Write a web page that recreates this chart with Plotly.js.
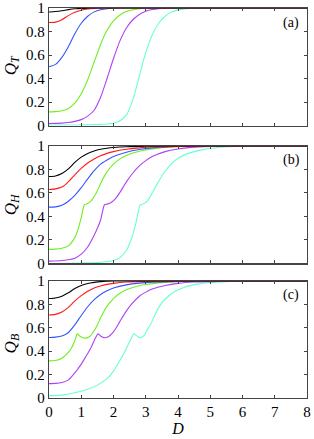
<!DOCTYPE html>
<html><head><meta charset="utf-8">
<script src="https://cdn.plot.ly/plotly-3.0.1.min.js"></script>
<style>html,body{margin:0;padding:0;background:#fff;}#plot{width:314px;height:439px;}</style>
</head><body><div id="plot"></div>
<script>
// ---------- data ----------
const seriesNames = ["black","red","blue","green","purple","cyan"];
const seriesColors = ["#000000","#ff1a1a","#3355ff","#6fef1f","#b040f5","#66ffd6"];

// Panel (a): Q_T
const D_QT = [0,0.2,0.4,0.6,0.8,1.0,1.2,1.4,1.6,1.8,2.0,2.2,2.4,2.6,2.8,3.0,3.2,3.4,3.6,3.8,4.0,4.3,4.6,5,6,8];
const QT_black  = [0.966,0.970,0.977,0.986,0.993,0.997,0.999,1,1,1,1,1,1,1,1,1,1,1,1,1,1,1,1,1,1,1];
const QT_red    = [0.876,0.880,0.900,0.935,0.963,0.981,0.991,0.996,0.999,1,1,1,1,1,1,1,1,1,1,1,1,1,1,1,1,1];
const QT_blue   = [0.50,0.52,0.58,0.67,0.78,0.87,0.93,0.967,0.985,0.994,0.998,1,1,1,1,1,1,1,1,1,1,1,1,1,1,1];
const QT_green  = [0.116,0.118,0.125,0.145,0.19,0.27,0.39,0.54,0.69,0.81,0.89,0.94,0.97,0.985,0.994,0.998,1,1,1,1,1,1,1,1,1,1];
const QT_purple = [0.017,0.018,0.02,0.025,0.035,0.05,0.08,0.13,0.24,0.40,0.57,0.72,0.83,0.90,0.945,0.972,0.987,0.995,0.998,1,1,1,1,1,1,1];
const QT_cyan   = [0.003,0.003,0.003,0.004,0.004,0.005,0.006,0.008,0.01,0.013,0.02,0.04,0.09,0.22,0.42,0.62,0.77,0.87,0.93,0.965,0.984,0.995,1,1,1,1];

// Panel (b): Q_H
const D_QH_black = [0,0.2,0.4,0.6,0.8,1.0,1.2,1.4,1.6,1.8,2.0,2.4,2.8,3.2,4,5,8];
const QH_black   = [0.74,0.745,0.765,0.805,0.86,0.905,0.937,0.958,0.972,0.981,0.987,0.994,0.997,0.999,1,1,1];
const D_QH_red   = [0,0.2,0.4,0.6,0.8,1.0,1.2,1.4,1.6,1.8,2.0,2.4,2.8,3.2,4,5,8];
const QH_red     = [0.63,0.635,0.65,0.695,0.755,0.81,0.855,0.89,0.917,0.937,0.952,0.972,0.984,0.991,0.997,1,1];
const D_QH_blue  = [0,0.2,0.4,0.6,0.8,1.0,1.2,1.4,1.6,1.8,2.0,2.4,2.8,3.2,4,5,8];
const QH_blue    = [0.48,0.482,0.495,0.53,0.58,0.645,0.72,0.79,0.845,0.88,0.91,0.947,0.97,0.984,0.996,1,1];
const D_QH_green = [0,0.2,0.4,0.6,0.8,0.9,1.0,1.1,1.2,1.3,1.4,1.5,1.6,1.7,1.8,2.0,2.2,2.4,2.6,2.8,3.0,3.4,3.8,4.2,5,8];
const QH_green   = [0.12,0.122,0.13,0.15,0.22,0.29,0.39,0.50,0.51,0.53,0.57,0.62,0.68,0.735,0.78,0.845,0.89,0.92,0.94,0.955,0.966,0.982,0.991,0.996,1,1];
const D_QH_purple = [0,0.4,0.8,1.0,1.2,1.4,1.5,1.6,1.72,1.8,1.9,2.0,2.1,2.2,2.3,2.4,2.6,2.8,3.0,3.2,3.6,4.0,4.4,5,6,8];
const QH_purple   = [0.02,0.025,0.045,0.08,0.14,0.24,0.30,0.37,0.50,0.505,0.515,0.535,0.565,0.605,0.65,0.695,0.77,0.83,0.875,0.91,0.952,0.975,0.988,0.996,1,1];
const D_QH_cyan  = [0,1.0,1.6,2.0,2.2,2.4,2.5,2.6,2.7,2.83,2.9,3.0,3.1,3.2,3.3,3.4,3.6,3.8,4.0,4.3,4.7,5.2,5.8,6.5,8];
const QH_cyan    = [0.0,0.003,0.01,0.025,0.05,0.11,0.17,0.245,0.35,0.50,0.505,0.52,0.55,0.60,0.65,0.70,0.785,0.85,0.895,0.935,0.965,0.985,0.995,1,1];

// Panel (c): Q_B
const D_QB_black = [0,0.2,0.4,0.6,0.8,1.0,1.2,1.4,1.6,2,8];
const QB_black   = [0.85,0.855,0.87,0.90,0.935,0.962,0.978,0.988,0.995,1,1];
const D_QB_red   = [0,0.2,0.4,0.6,0.8,1.0,1.2,1.4,1.6,1.8,2.0,2.4,3,4,8];
const QB_red     = [0.71,0.715,0.735,0.775,0.83,0.875,0.912,0.94,0.958,0.971,0.98,0.991,0.997,1,1];
const D_QB_blue  = [0,0.2,0.4,0.6,0.8,1.0,1.2,1.4,1.6,1.8,2.0,2.4,2.8,3.2,4,5,8];
const QB_blue    = [0.517,0.52,0.53,0.56,0.625,0.705,0.78,0.84,0.885,0.917,0.94,0.967,0.982,0.99,0.997,1,1];
const D_QB_green = [0,0.2,0.4,0.6,0.7,0.8,0.88,0.95,1.05,1.12,1.2,1.3,1.4,1.5,1.6,1.7,1.8,2.0,2.2,2.4,2.6,2.8,3.0,3.4,4,5,8];
const QB_green   = [0.317,0.32,0.34,0.39,0.43,0.49,0.548,0.53,0.515,0.512,0.516,0.535,0.575,0.625,0.685,0.74,0.785,0.85,0.895,0.925,0.945,0.96,0.97,0.984,0.995,1,1];
const D_QB_purple = [0,0.2,0.4,0.6,0.8,1.0,1.1,1.2,1.3,1.4,1.52,1.6,1.7,1.75,1.85,1.95,2.05,2.2,2.4,2.6,2.8,3.0,3.2,3.6,4.0,4.5,5.2,6,8];
const QB_purple   = [0.123,0.125,0.132,0.155,0.215,0.29,0.335,0.38,0.43,0.49,0.548,0.53,0.516,0.515,0.525,0.55,0.585,0.655,0.745,0.815,0.87,0.905,0.932,0.962,0.98,0.991,0.997,1,1];
const D_QB_cyan  = [0,0.4,0.8,1.2,1.5,1.8,2.0,2.2,2.3,2.4,2.5,2.63,2.7,2.8,2.85,2.95,3.05,3.15,3.3,3.5,3.7,3.9,4.2,4.6,5.0,5.5,6,6.5,8];
const QB_cyan    = [0.02,0.025,0.045,0.075,0.11,0.165,0.23,0.32,0.37,0.425,0.48,0.548,0.535,0.518,0.517,0.535,0.585,0.63,0.72,0.815,0.87,0.91,0.947,0.973,0.987,0.995,0.998,1,1];

const yTickVals = [0,0.2,0.4,0.6,0.8,1];
const yTickText = ["0","0.2","0.4","0.6","0.8","1"];
const xTickVals = [0,1,2,3,4,5,6,7,8];
const xTickText = ["0","1","2","3","4","5","6","7","8"];
const panelLabels = ["(a)","(b)","(c)"];
const yTitles = ["<i>Q</i><sub><i>T</i></sub>","<i>Q</i><sub><i>H</i></sub>","<i>Q</i><sub><i>B</i></sub>"];

// ---------- build traces ----------
const panels = [
  {xs:[D_QT,D_QT,D_QT,D_QT,D_QT,D_QT], ys:[QT_black,QT_red,QT_blue,QT_green,QT_purple,QT_cyan]},
  {xs:[D_QH_black,D_QH_red,D_QH_blue,D_QH_green,D_QH_purple,D_QH_cyan], ys:[QH_black,QH_red,QH_blue,QH_green,QH_purple,QH_cyan]},
  {xs:[D_QB_black,D_QB_red,D_QB_blue,D_QB_green,D_QB_purple,D_QB_cyan], ys:[QB_black,QB_red,QB_blue,QB_green,QB_purple,QB_cyan]}
];
const traces = [];
panels.forEach((p, pi) => {
  const sfx = pi === 0 ? "" : String(pi + 1);
  for (let k = seriesNames.length - 1; k >= 0; k--) {
    traces.push({
      type: "scatter", mode: "lines",
      x: p.xs[k], y: p.ys[k], name: seriesNames[k],
      xaxis: "x" + sfx, yaxis: "y" + sfx,
      line: {color: seriesColors[k], width: 1.1, shape: "spline", smoothing: 0.6},
      showlegend: false, hoverinfo: "skip"
    });
  }
});

const font = {family: "Liberation Serif, Times New Roman, serif", size: 15, color: "#000"};
function xax(anchor, showLabels) {
  return {anchor: anchor, range: [0, 8], tickvals: xTickVals, ticktext: xTickText,
    showticklabels: showLabels, ticks: "inside", ticklen: 3, tickcolor: "#444", tickwidth: 1,
    showline: true, linecolor: "#444", linewidth: 1.2, mirror: "ticks",
    showgrid: false, zeroline: false, tickfont: font};
}
function yax(anchor, domain) {
  return {anchor: anchor, domain: domain, range: [0, 1], tickvals: yTickVals, ticktext: yTickText,
    ticks: "inside", ticklen: 3, tickcolor: "#444", tickwidth: 1,
    showline: true, linecolor: "#444", linewidth: 1.2, mirror: "ticks",
    showgrid: false, zeroline: false, tickfont: font};
}
const domains = [[0.6987, 1], [0.3449, 0.6462], [0, 0.3]];
const layout = {
  width: 314, height: 439,
  margin: {l: 49, r: 7, t: 8, b: 41, pad: 0},
  paper_bgcolor: "#fff", plot_bgcolor: "#fff",
  font: font, showlegend: false,
  xaxis: xax("y", false), yaxis: yax("x", domains[0]),
  xaxis2: xax("y2", false), yaxis2: yax("x2", domains[1]),
  xaxis3: Object.assign(xax("y3", true), {title: {text: "<i>D</i>", font: {family: font.family, size: 16, color: "#000"}, standoff: 2}}),
  yaxis3: yax("x3", domains[2]),
  annotations: []
};
const yCenters = [0.853, 0.497, 0.14];
const labelY = [0.9615, 0.610, 0.264];
for (let i = 0; i < 3; i++) {
  layout.annotations.push({xref: "paper", yref: "paper", x: (291 - 49) / 258, y: labelY[i],
    text: panelLabels[i], showarrow: false, xanchor: "center", yanchor: "middle",
    font: {family: font.family, size: 14, color: "#000"}});
  layout.annotations.push({xref: "paper", yref: "paper", x: (12 - 49) / 258, y: yCenters[i],
    text: yTitles[i], showarrow: false, textangle: -90, xanchor: "center", yanchor: "middle",
    font: {family: font.family, size: 17, color: "#000"}});
}
Plotly.newPlot("plot", traces, layout, {staticPlot: true, displayModeBar: false});
</script></body></html>
